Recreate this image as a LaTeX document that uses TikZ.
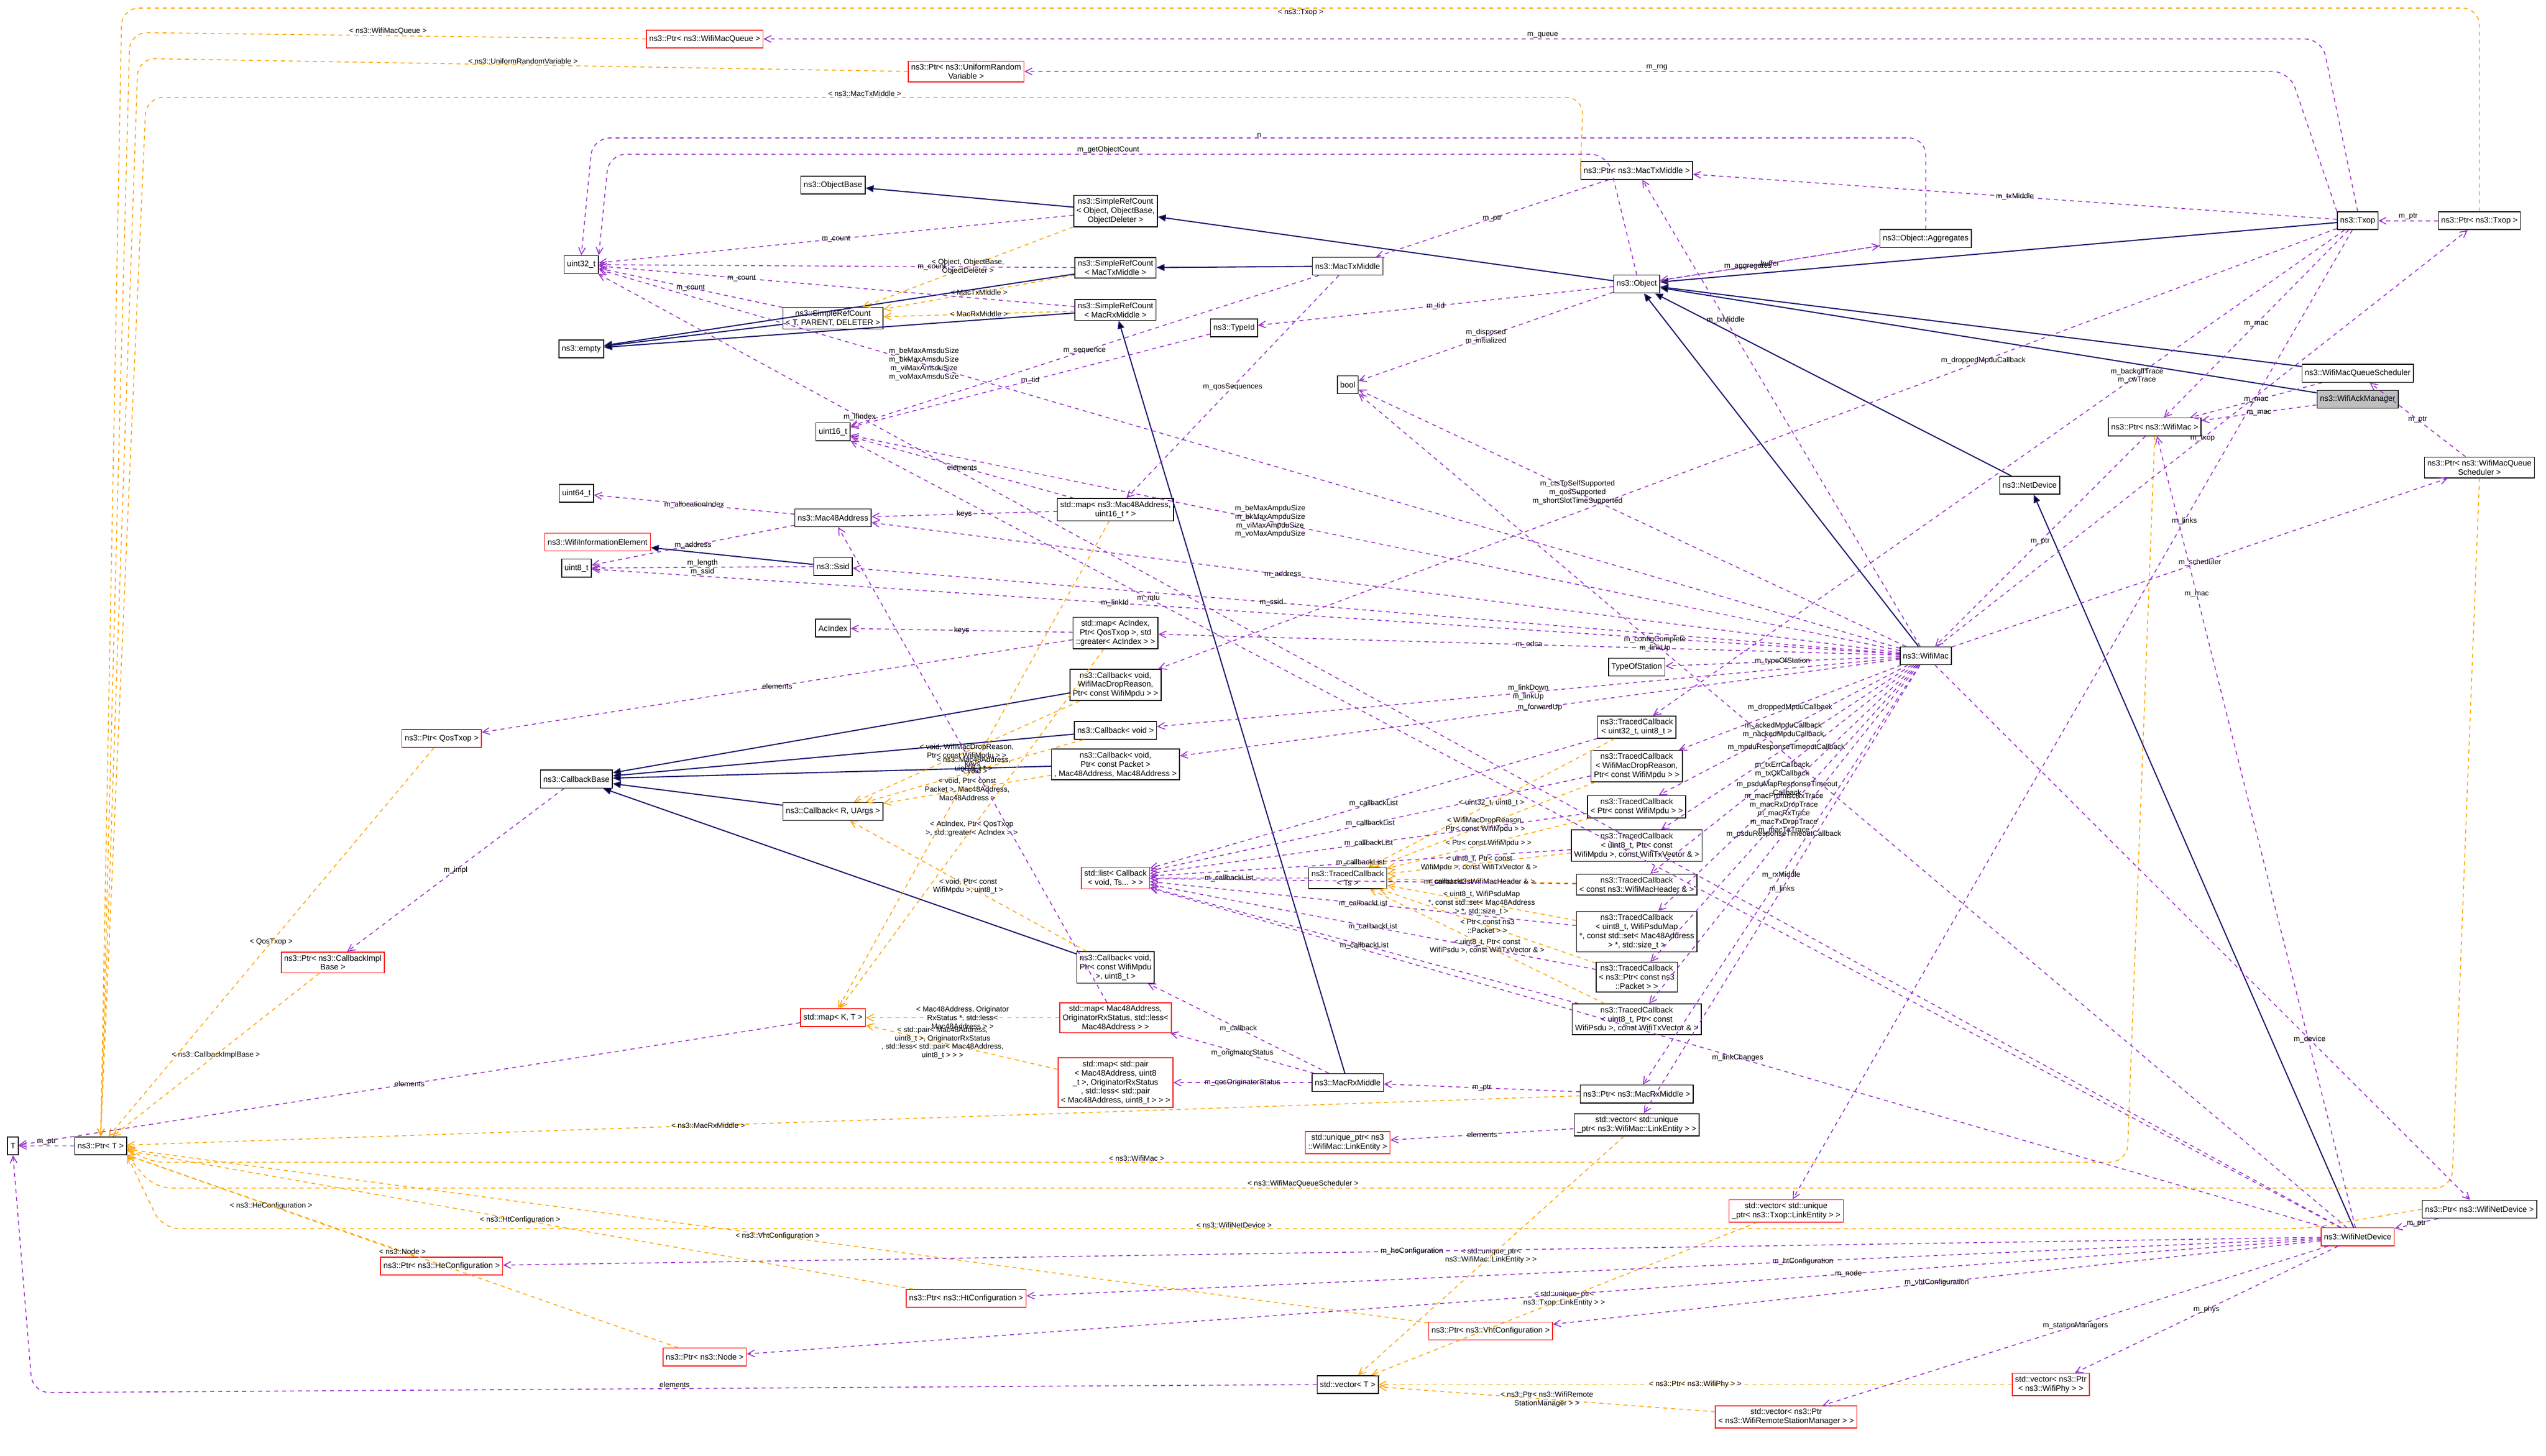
\documentclass[tikz,border=0pt]{standalone}
\usepackage{fontspec}
\setmainfont{Liberation Sans}
\usepackage{tikz}
\usetikzlibrary{positioning,arrows.meta}
\definecolor{navy}{HTML}{191970}
\definecolor{orchid}{HTML}{9A32CD}
\definecolor{tmpl}{HTML}{FFA500}
\tikzset{
  cls/.style={draw=black,line width=1.5pt,fill=white,align=center,inner sep=5pt,minimum height=1.1cm,font=\fontsize{14}{16}\selectfont},
  ext/.style={cls,draw=red},
  root/.style={cls,fill=black!25},
  inh/.style={draw=navy,line width=2pt,-{Triangle[length=14pt,width=12pt]}},
  mem/.style={draw=orchid,line width=1.6pt,dash pattern=on 7pt off 7pt,rounded corners=30pt,-{Straight Barb[length=12pt,width=12pt]}},
  tpl/.style={draw=tmpl,line width=1.6pt,dash pattern=on 7pt off 7pt,rounded corners=30pt,-{Straight Barb[length=12pt,width=12pt]}},
  lbl/.style={font=\fontsize{13}{15}\selectfont,align=center,inner sep=1pt,text=black}
}
\begin{document}
\begin{tikzpicture}[x=0.1cm,y=-0.1cm]
\useasboundingbox (0,0) rectangle (1568,897);
% left column
\draw (8,706) node[cls] (T) {T};
\draw (62,706) node[cls] (ptrT) {ns3::Ptr< T >};
\draw (358,163) node[cls] (u32) {uint32\_t};
\draw (358,215) node[cls] (empty) {ns3::empty};
\draw (513,114) node[cls] (objbase) {ns3::ObjectBase};
\draw (513,196) node[cls] (srcTPD) {ns3::SimpleRefCount\\< T, PARENT, DELETER >};
\draw (513,266) node[cls] (u16) {uint16\_t};
\draw (355,304) node[cls] (u64) {uint64\_t};
\draw (368,334) node[ext] (wie) {ns3::WifiInformationElement};
\draw (355,350) node[cls] (u8) {uint8\_t};
\draw (513,387) node[cls] (acidx) {AcIndex};
\draw (272,455) node[ext] (ptrqos) {ns3::Ptr< QosTxop >};
\draw (355,480) node[cls] (cbbase) {ns3::CallbackBase};
\draw (205,593) node[ext] (ptrcbimpl) {ns3::Ptr< ns3::CallbackImpl\\Base >};
\draw (513,319) node[cls] (mac48) {ns3::Mac48Address};
\draw (513,349) node[cls] (ssid) {ns3::Ssid};
\draw (513,500) node[cls] (cbR) {ns3::Callback< R, UArgs >};
\draw (513,627) node[ext] (mapKT) {std::map< K, T >};
\draw (434,24) node[ext] (ptrqueue) {ns3::Ptr< ns3::WifiMacQueue >};
\draw (595,44) node[ext] (ptrrng) {ns3::Ptr< ns3::UniformRandom\\Variable >};
% middle column
\draw (687,130) node[cls] (srcobj) {ns3::SimpleRefCount\\< Object, ObjectBase,\\ ObjectDeleter >};
\draw (687,165) node[cls] (srctx) {ns3::SimpleRefCount\\< MacTxMiddle >};
\draw (687,191) node[cls] (srcrx) {ns3::SimpleRefCount\\< MacRxMiddle >};
\draw (760,202) node[cls] (typeid) {ns3::TypeId};
\draw (830,237) node[cls] (bool) {bool};
\draw (830,164) node[cls] (mactx) {ns3::MacTxMiddle};
\draw (687,314) node[cls] (mapmac) {std::map< ns3::Mac48Address,\\ uint16\_t * >};
\draw (687,390) node[cls] (mapac) {std::map< AcIndex,\\ Ptr< QosTxop >, std\\::greater< AcIndex > >};
\draw (687,422) node[cls] (cbdrop) {ns3::Callback< void,\\ WifiMacDropReason,\\ Ptr< const WifiMpdu > >};
\draw (687,450) node[cls] (cbvoid) {ns3::Callback< void >};
\draw (687,471) node[cls] (cbfwd) {ns3::Callback< void,\\ Ptr< const Packet >\\, Mac48Address, Mac48Address >};
\draw (687,541) node[ext] (listcb) {std::list< Callback\\< void, Ts... > >};
\draw (687,596) node[cls] (cbmpdu) {ns3::Callback< void,\\ Ptr< const WifiMpdu\\ >, uint8\_t >};
\draw (687,627) node[ext] (maporig) {std::map< Mac48Address,\\ OriginatorRxStatus, std::less<\\ Mac48Address > >};
\draw (687,667) node[ext] (mappair) {std::map< std::pair\\< Mac48Address, uint8\\\_t >, OriginatorRxStatus\\, std::less< std::pair\\< Mac48Address, uint8\_t > > >};
\draw (830,667) node[cls] (macrx) {ns3::MacRxMiddle};
\draw (830,541) node[cls] (tcTs) {ns3::TracedCallback\\< Ts >};
\draw (1008,105) node[cls] (ptrtx) {ns3::Ptr< ns3::MacTxMiddle >};
\draw (1008,175) node[cls] (object) {ns3::Object};
\draw (1186,147) node[cls] (aggr) {ns3::Object::Aggregates};
\draw (1008,411) node[cls] (tos) {TypeOfStation};
\draw (1008,448) node[cls] (tc1) {ns3::TracedCallback\\< uint32\_t, uint8\_t >};
\draw (1008,472) node[cls] (tc2) {ns3::TracedCallback\\< WifiMacDropReason,\\ Ptr< const WifiMpdu > >};
\draw (1008,497) node[cls] (tc3) {ns3::TracedCallback\\< Ptr< const WifiMpdu > >};
\draw (1008,521) node[cls] (tc4) {ns3::TracedCallback\\< uint8\_t, Ptr< const\\ WifiMpdu >, const WifiTxVector \& >};
\draw (1008,545) node[cls] (tc5) {ns3::TracedCallback\\< const ns3::WifiMacHeader \& >};
\draw (1008,574) node[cls] (tc6) {ns3::TracedCallback\\< uint8\_t, WifiPsduMap\\ *, const std::set< Mac48Address\\ > *, std::size\_t >};
\draw (1008,602) node[cls] (tc7) {ns3::TracedCallback\\< ns3::Ptr< const ns3\\::Packet > >};
\draw (1008,628) node[cls] (tc8) {ns3::TracedCallback\\< uint8\_t, Ptr< const\\ WifiPsdu >, const WifiTxVector \& >};
\draw (1008,674) node[cls] (ptrrx) {ns3::Ptr< ns3::MacRxMiddle >};
\draw (1008,693) node[cls] (veclink) {std::vector< std::unique\\\_ptr< ns3::WifiMac::LinkEntity > >};
\draw (830,704) node[ext] (uniqlink) {std::unique\_ptr< ns3\\::WifiMac::LinkEntity >};
\draw (1100,746) node[ext] (vectxlink) {std::vector< std::unique\\\_ptr< ns3::Txop::LinkEntity > >};
\draw (272,780) node[ext] (ptrhe) {ns3::Ptr< ns3::HeConfiguration >};
\draw (595,800) node[ext] (ptrht) {ns3::Ptr< ns3::HtConfiguration >};
\draw (918,820) node[ext] (ptrvht) {ns3::Ptr< ns3::VhtConfiguration >};
\draw (434,836) node[ext] (ptrnode) {ns3::Ptr< ns3::Node >};
\draw (830,853) node[cls] (vecT) {std::vector< T >};
\draw (1263,853) node[ext] (vecphy) {std::vector< ns3::Ptr\\< ns3::WifiPhy > >};
\draw (1100,873) node[ext] (vecrsm) {std::vector< ns3::Ptr\\< ns3::WifiRemoteStationManager > >};
% right column
\draw (1452,136) node[cls] (txop) {ns3::Txop};
\draw (1527,136) node[cls] (ptrtxop) {ns3::Ptr< ns3::Txop >};
\draw (1452,230) node[cls] (sched) {ns3::WifiMacQueueScheduler};
\draw (1452,246) node[root] (ackmgr) {ns3::WifiAckManager};
\draw (1327,263) node[cls] (ptrmac) {ns3::Ptr< ns3::WifiMac >};
\draw (1527,288) node[cls] (ptrsched) {ns3::Ptr< ns3::WifiMacQueue\\Scheduler >};
\draw (1250,299) node[cls] (netdev) {ns3::NetDevice};
\draw (1186,404) node[cls] (wifimac) {ns3::WifiMac};
\draw (1527,745) node[cls] (ptrdev) {ns3::Ptr< ns3::WifiNetDevice >};
\draw (1452,762) node[ext] (wifidev) {ns3::WifiNetDevice};

% inheritance
\path[inh]
  (srcTPD) edge (empty)
  (srcobj) edge (objbase)
  (srctx) edge (empty)
  (srcrx) edge (empty)
  (mactx) edge (srctx)
  (macrx) edge (srcrx)
  (object) edge (srcobj)
  (txop) edge (object)
  (sched) edge (object)
  (ackmgr) edge (object)
  (netdev) edge (object)
  (wifimac) edge (object)
  (wifidev) edge (netdev)
  (ssid) edge (wie)
  (cbdrop) edge (cbbase)
  (cbvoid) edge (cbbase)
  (cbfwd) edge (cbbase)
  (cbmpdu) edge (cbbase)
  (cbR) edge (cbbase);

% templates routed round the picture
\draw[tpl] (ptrtxop.north) -- (1527,5) -- node[lbl,below] {< ns3::Txop >} (75,5) -- (ptrT.north);
\draw[tpl] (ptrqueue.west) -- node[lbl,above] {< ns3::WifiMacQueue >} (80,20) -- (ptrT.north);
\draw[tpl] (ptrrng.west) -- node[lbl,above] {< ns3::UniformRandomVariable >} (85,36) -- (ptrT.north);
\draw[tpl] (ptrtx.west) -- (975,60) -- node[lbl,above] {< ns3::MacTxMiddle >} (90,60) -- (ptrT.north);
\draw[tpl] (ptrmac.south) -- (1310,716) -- node[lbl,above] {< ns3::WifiMac >} (90,716) -- (ptrT.east);
\draw[tpl] (ptrsched.south) -- (1510,732) -- node[lbl,above] {< ns3::WifiMacQueueScheduler >} (95,732) -- (ptrT.south east);
\draw[tpl] (ptrdev.west) -- (1420,757) -- node[lbl,above] {< ns3::WifiNetDevice >} (100,757) -- (ptrT.south east);
\draw[mem] (vecT.west) -- node[lbl,above] {elements} (20,858) -- (T.south);
\draw[mem] (object.north) -- (990,95) -- node[lbl,above] {m\_getObjectCount} (375,95) -- (u32.north east);
\draw[mem] (aggr.north) -- (1186,85) -- node[lbl,above] {n} (365,85) -- (u32.north);
\draw[mem] (txop.north) -- (1430,24) -- node[lbl,above] {m\_queue} (ptrqueue.east);
\draw[mem] (txop.north west) -- (1410,44) -- node[lbl,above] {m\_rng} (ptrrng.east);

\path[tpl]
  (srcobj) edge node[lbl] {< Object, ObjectBase,\\ ObjectDeleter >} (srcTPD)
  (srctx) edge node[lbl] {< MacTxMiddle >} (srcTPD)
  (srcrx) edge node[lbl] {< MacRxMiddle >} (srcTPD)
  (ptrqos) edge node[lbl] {< QosTxop >} (ptrT)
  (ptrcbimpl) edge node[lbl] {< ns3::CallbackImplBase >} (ptrT)
  (ptrrx) edge node[lbl,pos=0.6] {< ns3::MacRxMiddle >} (ptrT)
  (ptrhe) edge node[lbl] {< ns3::HeConfiguration >} (ptrT)
  (ptrht) edge node[lbl] {< ns3::HtConfiguration >} (ptrT)
  (ptrvht) edge node[lbl] {< ns3::VhtConfiguration >} (ptrT)
  (ptrnode) edge node[lbl] {< ns3::Node >} (ptrT)
  (mapmac) edge node[lbl] {< ns3::Mac48Address,\\ uint16\_t * >} (mapKT)
  (mapac) edge node[lbl] {< AcIndex, Ptr< QosTxop\\ >, std::greater< AcIndex > >} (mapKT)
  (maporig) edge node[lbl] {< Mac48Address, Originator\\RxStatus *, std::less<\\ Mac48Address > >} (mapKT)
  (mappair) edge node[lbl,pos=0.6] {< std::pair< Mac48Address,\\ uint8\_t >, OriginatorRxStatus\\, std::less< std::pair< Mac48Address,\\ uint8\_t > > >} (mapKT)
  (cbdrop) edge node[lbl] {< void, WifiMacDropReason,\\ Ptr< const WifiMpdu > >} (cbR)
  (cbvoid) edge node[lbl] {< void >} (cbR)
  (cbfwd) edge node[lbl] {< void, Ptr< const\\ Packet >, Mac48Address,\\ Mac48Address >} (cbR)
  (cbmpdu) edge node[lbl] {< void, Ptr< const\\ WifiMpdu >, uint8\_t >} (cbR)
  (tc1) edge node[lbl] {< uint32\_t, uint8\_t >} (tcTs)
  (tc2) edge node[lbl] {< WifiMacDropReason,\\ Ptr< const WifiMpdu > >} (tcTs)
  (tc3) edge node[lbl] {< Ptr< const WifiMpdu > >} (tcTs)
  (tc4) edge node[lbl] {< uint8\_t, Ptr< const\\ WifiMpdu >, const WifiTxVector \& >} (tcTs)
  (tc5) edge node[lbl] {< const ns3::WifiMacHeader \& >} (tcTs)
  (tc6) edge node[lbl] {< uint8\_t, WifiPsduMap\\ *, const std::set< Mac48Address\\ > *, std::size\_t >} (tcTs)
  (tc7) edge node[lbl] {< Ptr< const ns3\\::Packet > >} (tcTs)
  (tc8) edge node[lbl] {< uint8\_t, Ptr< const\\ WifiPsdu >, const WifiTxVector \& >} (tcTs)
  (veclink) edge node[lbl] {< std::unique\_ptr<\\ ns3::WifiMac::LinkEntity > >} (vecT)
  (vectxlink) edge node[lbl] {< std::unique\_ptr<\\ ns3::Txop::LinkEntity > >} (vecT)
  (vecphy) edge node[lbl] {< ns3::Ptr< ns3::WifiPhy > >} (vecT)
  (vecrsm) edge node[lbl] {< ns3::Ptr< ns3::WifiRemote\\StationManager > >} (vecT);

% members
\path[mem]
  (ptrT) edge node[lbl,above] {m\_ptr} (T)
  (mapKT) edge node[lbl] {elements} (T)
  (srcTPD) edge node[lbl] {m\_count} (u32)
  (srcobj) edge node[lbl] {m\_count} (u32)
  (srctx) edge node[lbl,pos=0.3] {m\_count} (u32)
  (srcrx) edge node[lbl,pos=0.7] {m\_count} (u32)
  (aggr) edge node[lbl] {buffer} (object)
  (object) edge node[lbl,pos=0.4] {m\_aggregates} (aggr)
  (object) edge node[lbl] {m\_tid} (typeid)
  (object) edge node[lbl] {m\_disposed\\m\_initialized} (bool)
  (typeid) edge node[lbl] {m\_tid} (u16)
  (mactx) edge node[lbl] {m\_sequence} (u16)
  (mactx) edge node[lbl] {m\_qosSequences} (mapmac)
  (mapmac) edge node[lbl] {elements} (u16)
  (mapmac) edge node[lbl] {keys} (mac48)
  (mac48) edge node[lbl] {m\_allocationIndex} (u64)
  (mac48) edge node[lbl] {m\_address} (u8)
  (ssid) edge node[lbl] {m\_length\\m\_ssid} (u8)
  (mapac) edge node[lbl] {keys} (acidx)
  (mapac) edge node[lbl] {elements} (ptrqos)
  (cbbase) edge node[lbl] {m\_impl} (ptrcbimpl)
  (ptrtx) edge node[lbl] {m\_ptr} (mactx)
  (ptrrx) edge node[lbl] {m\_ptr} (macrx)
  (macrx) edge node[lbl] {m\_callback} (cbmpdu)
  (macrx) edge node[lbl] {m\_originatorStatus} (maporig)
  (macrx) edge node[lbl] {m\_qosOriginatorStatus} (mappair)
  (maporig) edge node[lbl] {keys} (mac48)
  (tcTs) edge node[lbl] {m\_callbackList} (listcb)
  (tc1) edge node[lbl] {m\_callbackList} (listcb)
  (tc2) edge node[lbl] {m\_callbackList} (listcb)
  (tc3) edge node[lbl] {m\_callbackList} (listcb)
  (tc4) edge node[lbl] {m\_callbackList} (listcb)
  (tc5) edge node[lbl,pos=0.3] {m\_callbackList} (listcb)
  (tc6) edge node[lbl] {m\_callbackList} (listcb)
  (tc7) edge node[lbl] {m\_callbackList} (listcb)
  (tc8) edge node[lbl] {m\_callbackList} (listcb)
  (txop) edge node[lbl] {m\_txMiddle} (ptrtx)
  (txop) edge node[lbl] {m\_mac} (ptrmac)
  (txop) edge node[lbl,pos=0.3] {m\_droppedMpduCallback} (cbdrop)
  (txop) edge node[lbl,pos=0.3] {m\_backoffTrace\\m\_cwTrace} (tc1)
  (txop) edge node[lbl,pos=0.3] {m\_links} (vectxlink)
  (ptrtxop) edge node[lbl,above] {m\_ptr} (txop)
  (sched) edge node[lbl] {m\_mac} (ptrmac)
  (ackmgr) edge node[lbl] {m\_mac} (ptrmac)
  (ptrmac) edge node[lbl] {m\_ptr} (wifimac)
  (ptrsched) edge node[lbl] {m\_ptr} (sched)
  (wifimac) edge node[lbl,pos=0.7] {m\_txMiddle} (ptrtx)
  (wifimac) edge node[lbl] {m\_rxMiddle} (ptrrx)
  (wifimac) edge node[lbl,pos=0.7] {m\_device} (ptrdev)
  (wifimac) edge node[lbl] {m\_scheduler} (ptrsched)
  (wifimac) edge node[lbl] {m\_txop} (ptrtxop)
  (wifimac) edge node[lbl,pos=0.6] {m\_ctsToSelfSupported\\m\_qosSupported\\m\_shortSlotTimeSupported} (bool)
  (wifimac) edge node[lbl,pos=0.6] {m\_beMaxAmpduSize\\m\_bkMaxAmpduSize\\m\_viMaxAmpduSize\\m\_voMaxAmpduSize} (u16)
  (wifimac) edge node[lbl,pos=0.75] {m\_beMaxAmsduSize\\m\_bkMaxAmsduSize\\m\_viMaxAmsduSize\\m\_voMaxAmsduSize} (u32)
  (wifimac) edge node[lbl,pos=0.6] {m\_linkId} (u8)
  (wifimac) edge node[lbl,pos=0.6] {m\_address} (mac48)
  (wifimac) edge node[lbl,pos=0.6] {m\_ssid} (ssid)
  (wifimac) edge node[lbl] {m\_edca} (mapac)
  (wifimac) edge node[lbl] {m\_linkDown\\m\_linkUp} (cbvoid)
  (wifimac) edge node[lbl] {m\_forwardUp} (cbfwd)
  (wifimac) edge node[lbl] {m\_typeOfStation} (tos)
  (wifimac) edge node[lbl] {m\_droppedMpduCallback} (tc2)
  (wifimac) edge node[lbl] {m\_ackedMpduCallback\\m\_nackedMpduCallback} (tc3)
  (wifimac) edge node[lbl] {m\_mpduResponseTimeoutCallback} (tc4)
  (wifimac) edge node[lbl] {m\_txErrCallback\\m\_txOkCallback} (tc5)
  (wifimac) edge node[lbl] {m\_psduMapResponseTimeout\\Callback} (tc6)
  (wifimac) edge node[lbl] {m\_macPromiscRxTrace\\m\_macRxDropTrace\\m\_macRxTrace\\m\_macTxDropTrace\\m\_macTxTrace} (tc7)
  (wifimac) edge node[lbl] {m\_psduResponseTimeoutCallback} (tc8)
  (wifimac) edge node[lbl] {m\_links} (veclink)
  (veclink) edge node[lbl] {elements} (uniqlink)
  (ptrdev) edge node[lbl] {m\_ptr} (wifidev)
  (wifidev) edge node[lbl,pos=0.8] {m\_mac} (ptrmac)
  (wifidev) edge node[lbl,pos=0.7] {m\_configComplete\\m\_linkUp} (bool)
  (wifidev) edge node[lbl,pos=0.8] {m\_mtu} (u16)
  (wifidev) edge node[lbl,pos=0.85] {m\_ifIndex} (u32)
  (wifidev) edge node[lbl] {m\_linkChanges} (listcb)
  (wifidev) edge node[lbl] {m\_heConfiguration} (ptrhe)
  (wifidev) edge node[lbl,pos=0.4] {m\_htConfiguration} (ptrht)
  (wifidev) edge node[lbl] {m\_vhtConfiguration} (ptrvht)
  (wifidev) edge node[lbl,pos=0.3] {m\_node} (ptrnode)
  (wifidev) edge node[lbl] {m\_phys} (vecphy)
  (wifidev) edge node[lbl] {m\_stationManagers} (vecrsm);
\end{tikzpicture}
\end{document}
